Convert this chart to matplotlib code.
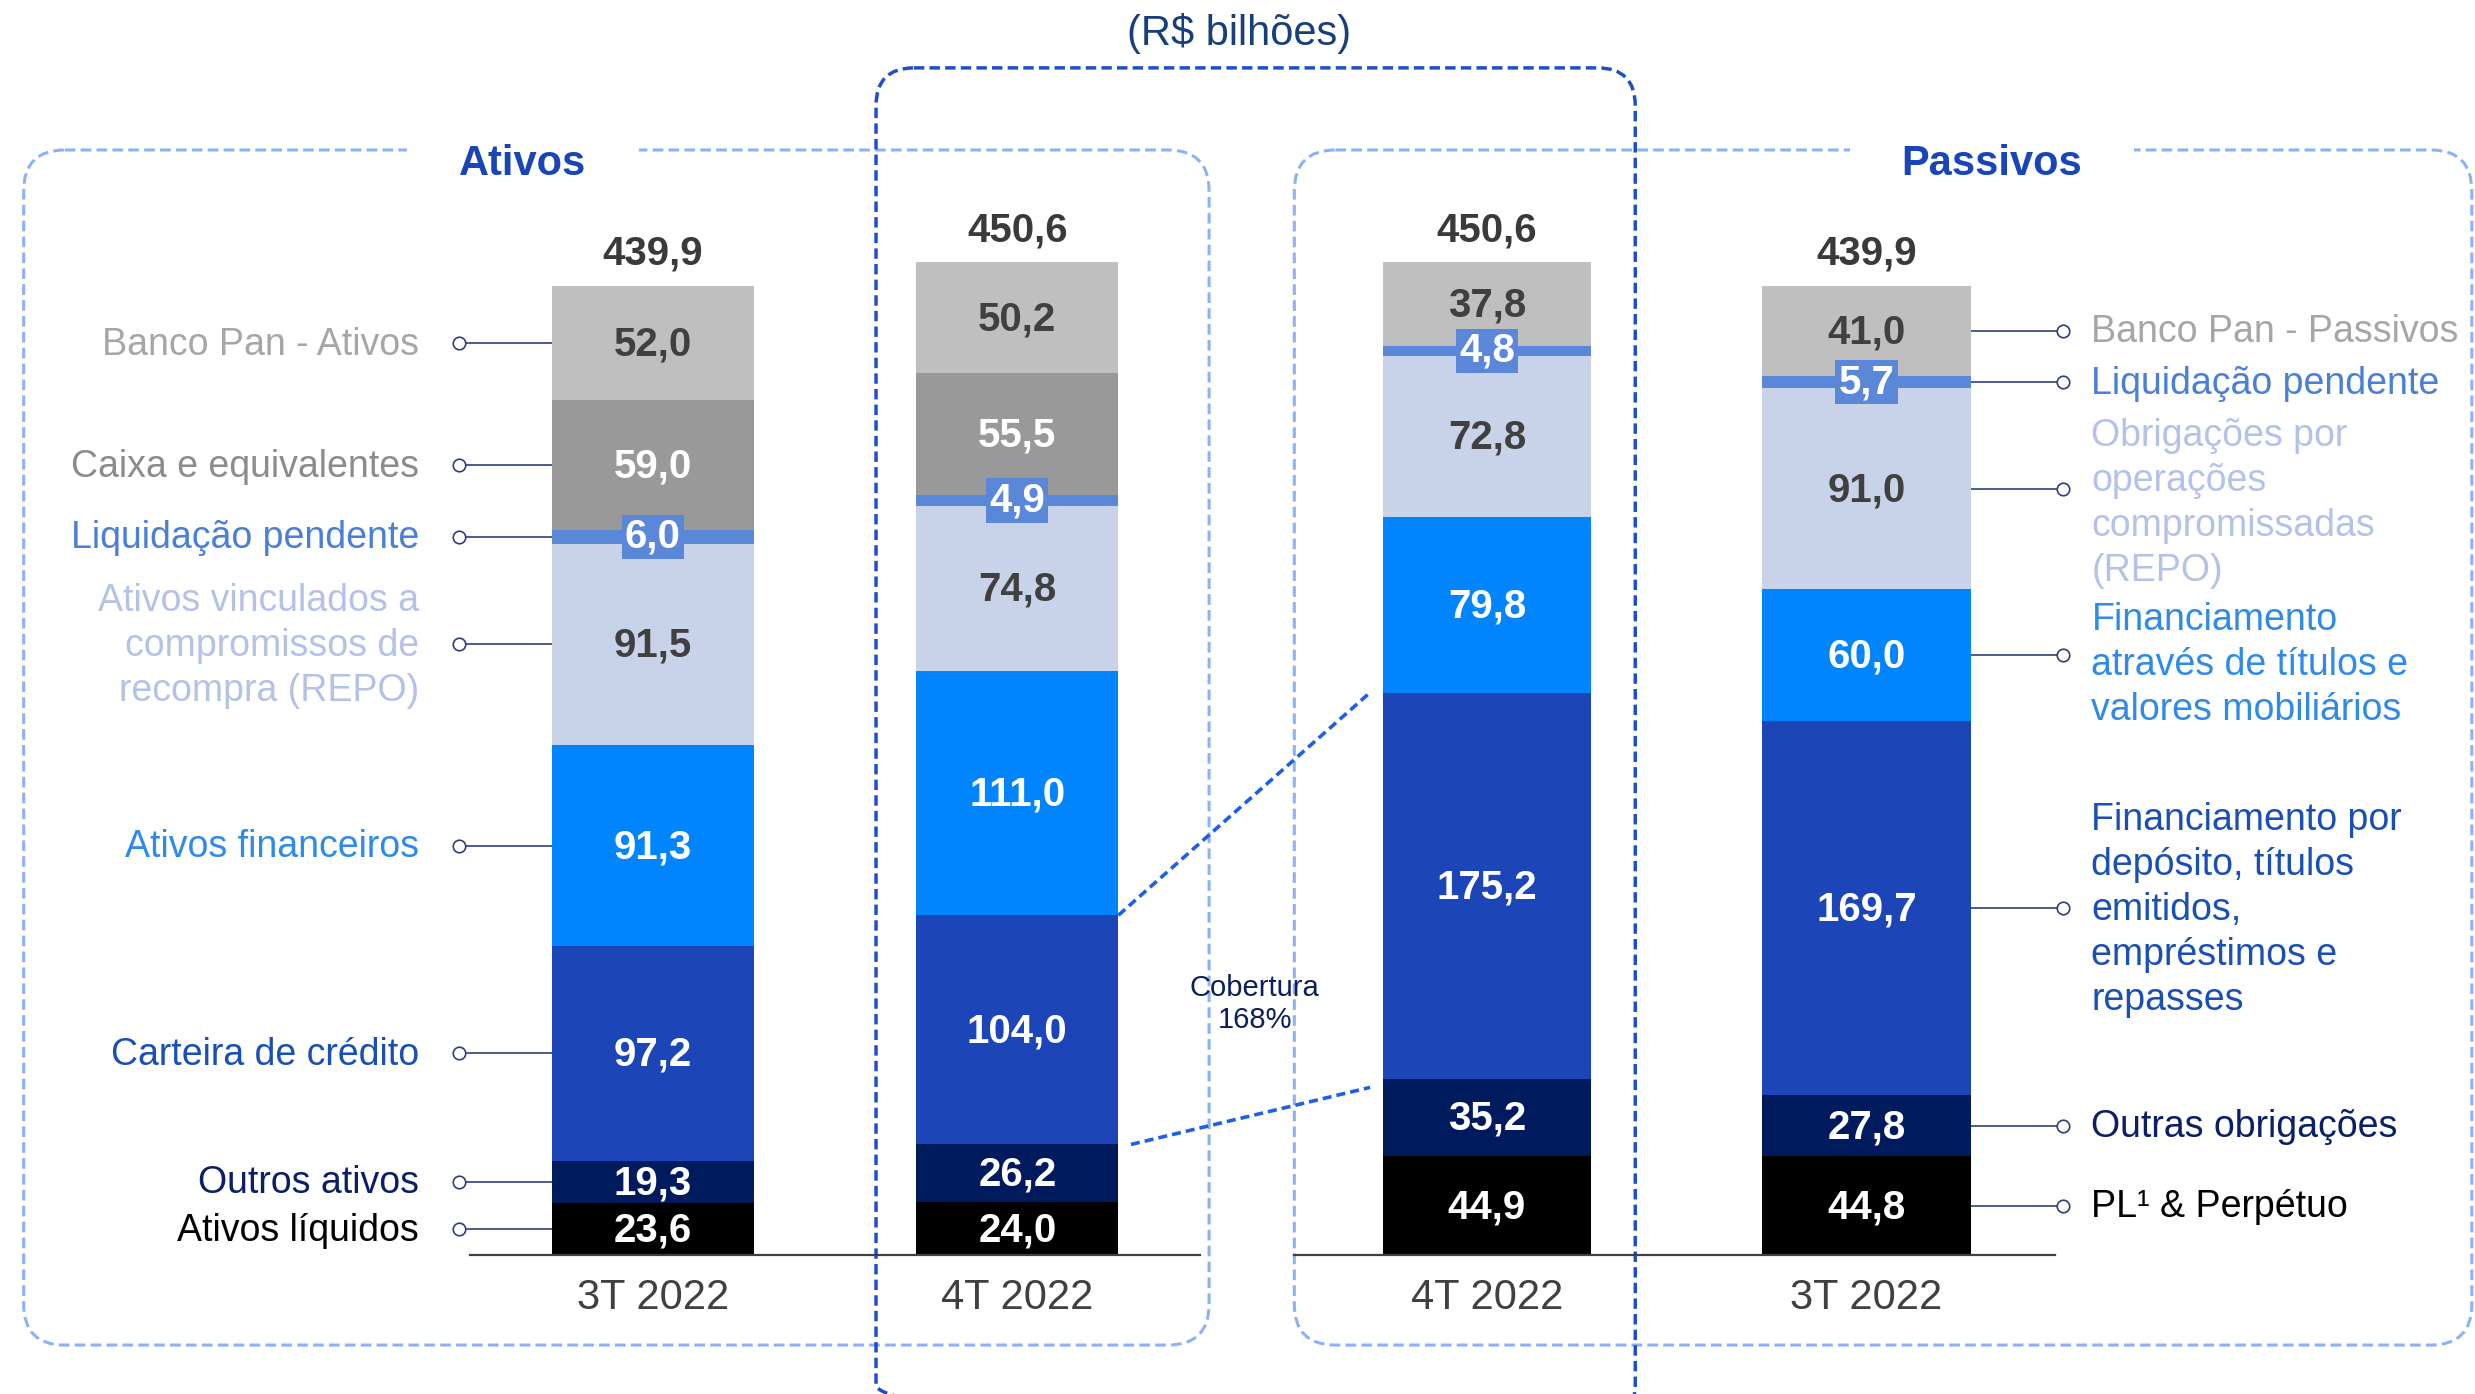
import matplotlib
matplotlib.use("Agg")
import matplotlib.pyplot as plt
from matplotlib.patches import FancyBboxPatch, Rectangle
import numpy as np

plt.rcParams['font.family'] = ['Liberation Sans', 'DejaVu Sans']

# ---- data (bottom -> top) ----
periods = ['3T 2022', '4T 2022', '4T 2022', '3T 2022']

ativos_cats = ['Ativos líquidos', 'Outros ativos', 'Carteira de crédito',
               'Ativos financeiros', 'Ativos vinculados a\ncompromissos de\nrecompra (REPO)',
               'Liquidação pendente', 'Caixa e equivalentes', 'Banco Pan - Ativos']
ativos_3t = [23.6, 19.3, 97.2, 91.3, 91.5, 6.0, 59.0, 52.0]
ativos_4t = [24.0, 26.2, 104.0, 111.0, 74.8, 4.9, 55.5, 50.2]

passivos_cats = ['PL¹ & Perpétuo', 'Outras obrigações',
                 'Financiamento por\ndepósito, títulos\nemitidos,\nempréstimos e\nrepasses',
                 'Financiamento\natravés de títulos e\nvalores mobiliários',
                 'Obrigações por\noperações\ncompromissadas\n(REPO)',
                 'Liquidação pendente', 'Banco Pan - Passivos']
passivos_4t = [44.9, 35.2, 175.2, 79.8, 72.8, 4.8, 37.8]
passivos_3t = [44.8, 27.8, 169.7, 60.0, 91.0, 5.7, 41.0]

totals = [439.9, 450.6, 450.6, 439.9]
cobertura = 168

# ---- styles ----
ativos_colors = ['#000000', '#001a5e', '#1c46b8', '#0085ff', '#c8d3ea', '#5b87d9', '#999999', '#bfbfbf']
ativos_txt = ['#000000', '#0b1f66', '#1a50b5', '#2f8ae8', '#b3c2e6', '#4a7fd8', '#8c8c8c', '#a6a6a6']
ativos_val = ['white', 'white', 'white', 'white', '#404040', 'white', 'white', '#404040']
passivos_colors = ['#000000', '#001a5e', '#1c46b8', '#0085ff', '#c8d3ea', '#5b87d9', '#bfbfbf']
passivos_txt = ['#000000', '#0b1f66', '#1a50b5', '#2f8ae8', '#b3c2e6', '#4a7fd8', '#a6a6a6']
passivos_val = ['white', 'white', 'white', 'white', '#404040', 'white', '#404040']
# small vertical nudges for some multi-line labels (value units)
passivos_nudge = [0, 0, 0, -4, -6, 0, 0]
liq_idx_a, liq_idx_p = 5, 5

W, H = 1568, 883
base_y, scale = 795, 1.3958
xpos = [413.5, 644.5, 942, 1182.5]
widths = [128, 128, 132, 133]

fig = plt.figure(figsize=(24.75, 13.94), dpi=100)
ax = fig.add_axes([0, 0, 1, 1])
deco = fig.add_axes([0, 0, 1, 1], zorder=-1)
for a in (ax, deco):
    a.set_xlim(0, W)
    a.axis('off')
ax.set_ylim(-(H - base_y) / scale, base_y / scale)
deco.set_ylim(H, 0)
ax.patch.set_alpha(0)

stacks = [(ativos_3t, ativos_colors, ativos_val, liq_idx_a),
          (ativos_4t, ativos_colors, ativos_val, liq_idx_a),
          (passivos_4t, passivos_colors, passivos_val, liq_idx_p),
          (passivos_3t, passivos_colors, passivos_val, liq_idx_p)]

bottoms_all = []
for i, (vals, cols, vcols, liq) in enumerate(stacks):
    bottoms = np.concatenate([[0], np.cumsum(vals)[:-1]])
    bottoms_all.append(bottoms)
    ax.bar(xpos[i], vals, widths[i], bottom=bottoms, color=cols, zorder=3)
    for j, v in enumerate(vals):
        yc = bottoms[j] + v / 2
        s = f'{v:.1f}'.replace('.', ',')
        if j == liq:
            ax.text(xpos[i], yc, s, ha='center', va='center', fontsize=29,
                    fontweight='bold', color='white', zorder=5,
                    bbox=dict(boxstyle='square,pad=0.08', fc=cols[j], ec='none'))
        else:
            ax.text(xpos[i], yc - 0.7, s, ha='center', va='center', fontsize=29,
                    fontweight='bold', color=vcols[j], zorder=5)
    top = bottoms[-1] + vals[-1]
    ax.text(xpos[i], top + 14.5, f'{totals[i]:.1f}'.replace('.', ','), ha='center',
            va='center', fontsize=29, fontweight='bold', color='#3a3a3a')
    ax.text(xpos[i], -19.5, periods[i], ha='center', va='center', fontsize=30,
            color='#404040')

# baselines
ax.plot([298, 760], [0, 0], color='#404040', lw=1.6, zorder=4)
ax.plot([820, 1302], [0, 0], color='#404040', lw=1.6, zorder=4)

# left labels (3T ativos)
lead = '#2b3f7d'
x_left = xpos[0] - widths[0] / 2
for j, cat in enumerate(ativos_cats):
    yc = bottoms_all[0][j] + ativos_3t[j] / 2
    ax.plot([x_left - 59, x_left], [yc, yc], color=lead, lw=1.2, zorder=2)
    ax.plot(x_left - 59, yc, 'o', ms=9, mfc='white', mec=lead, mew=1.2, zorder=4)
    ax.text(x_left - 84, yc - 0.7, cat, ha='right', va='center', fontsize=27,
            color=ativos_txt[j], linespacing=1.32)

# right labels (3T passivos)
x_right = xpos[3] + widths[3] / 2
for j, cat in enumerate(passivos_cats):
    yc = bottoms_all[3][j] + passivos_3t[j] / 2
    ax.plot([x_right, x_right + 58], [yc, yc], color=lead, lw=1.2, zorder=2)
    ax.plot(x_right + 58, yc, 'o', ms=9, mfc='white', mec=lead, mew=1.2, zorder=4)
    ax.text(x_right + 76, yc - 0.7 + passivos_nudge[j], cat, ha='left', va='center',
            fontsize=27, color=passivos_txt[j], linespacing=1.32)

# coverage connectors
conn = '#1f5fe6'
x_a = xpos[1] + widths[1] / 2
x_p = xpos[2] - widths[2] / 2 - 8
top_cred = bottoms_all[1][3]
top_dep = bottoms_all[2][3]
ax.plot([x_a, x_p], [top_cred, top_dep], color=conn, lw=2.6, ls=(0, (2.5, 1.4)), zorder=2)
ax.plot([x_a + 8, x_p], [bottoms_all[1][2], bottoms_all[2][2] - 4], color=conn, lw=2.6,
        ls=(0, (2.5, 1.4)), zorder=2)
ax.text(795, (base_y - 636) / scale, f'Cobertura\n{cobertura}%', ha='center', va='center',
        fontsize=21, color='#0b1f5c', linespacing=1.15)

# boxes
light = '#8cb2f5'
for (x0, x1) in [(15, 766), (820, 1566)]:
    deco.add_patch(FancyBboxPatch((x0, 95), x1 - x0, 757, boxstyle='round,pad=0,rounding_size=26',
                                  fc='none', ec=light, lw=2.2, ls=(0, (3.5, 1.7))))
deco.add_patch(FancyBboxPatch((555, 43), 481, 858, boxstyle='round,pad=0,rounding_size=24',
                              fc='none', ec='#1f4fc8', lw=2.5, ls=(0, (3, 1.5)), zorder=2))
deco.add_patch(Rectangle((258, 85), 147, 20, fc='white', ec='none', zorder=3))
deco.add_patch(Rectangle((1172, 85), 180, 20, fc='white', ec='none', zorder=3))
deco.text(331, 104, 'Ativos', ha='center', va='center', fontsize=30, fontweight='bold',
          color='#1a45b8', zorder=4)
deco.text(1262, 104, 'Passivos', ha='center', va='center', fontsize=30, fontweight='bold',
          color='#1a45b8', zorder=4)
deco.text(785, 21, '(R$ bilhões)', ha='center', va='center', fontsize=30, color='#17407a')

fig.savefig('out.png', dpi=100)
